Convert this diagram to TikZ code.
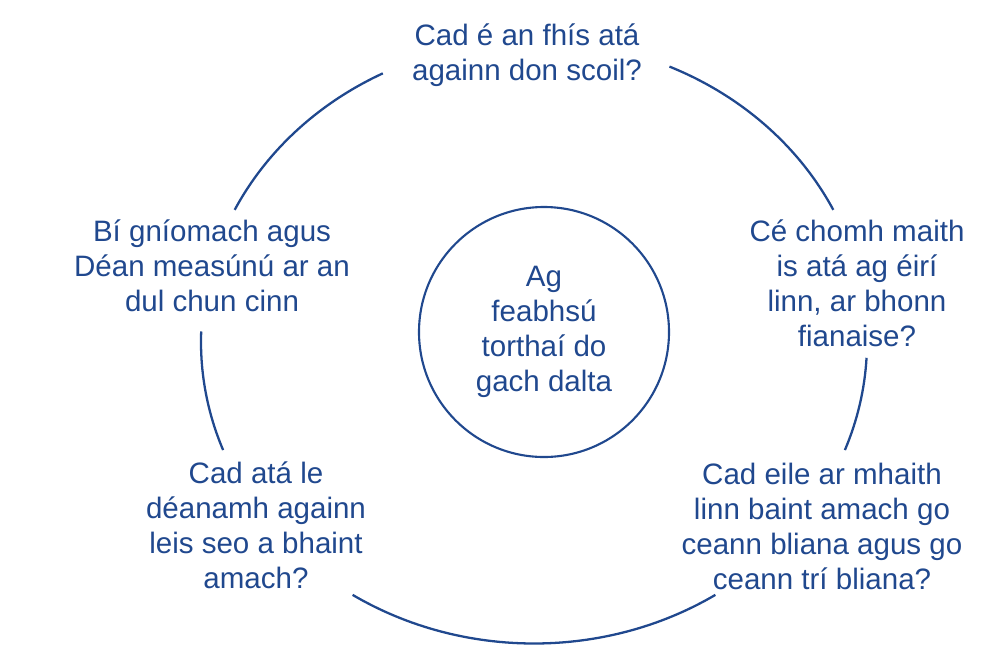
\documentclass[tikz,border=0pt]{standalone}
\usepackage{fontspec}
\setmainfont{Liberation Sans}
\usepackage{tikz}
\usetikzlibrary{calc,positioning}
\definecolor{navy}{RGB}{32,72,142}
\tikzstyle{question}=[text=navy, align=center, inner sep=0pt, font=\fontsize{16.8pt}{19.9pt}\selectfont]
\tikzstyle{centre}=[question, draw=navy, line width=1.2pt, circle, minimum size=5cm]
\tikzstyle{loopline}=[draw=navy, line width=1.3pt]

\begin{document}
\begin{tikzpicture}

\useasboundingbox (0,0) rectangle (20.14,-12.92);

% centre of the ring
\coordinate (O) at (10.68,-6.84);

% questions
\node[question] (vision) at (10.54,-1.1) {Cad é an fhís atá\\againn don scoil?};
\node[question] (progress) at (17.14,-5.66) {Cé chomh maith\\is atá ag éirí\\linn, ar bhonn\\fianaise?};
\node[question] (targets) at (16.44,-10.52) {Cad eile ar mhaith\\linn baint amach go\\ceann bliana agus go\\ceann trí bliana?};
\node[question] (plan) at (5.12,-10.5) {Cad atá le\\déanamh againn\\leis seo a bhaint\\amach?};
\node[question] (action) at (4.24,-5.32) {Bí gníomach agus\\Déan measúnú ar an\\dul chun cinn};

% middle
\node[centre] (pupil) at (10.88,-6.64) {Ag\\feabhsú\\torthaí do\\gach dalta};

% ring
\draw[loopline] ([shift={(66:6.66 and 6.03)}]O) arc[start angle=66, end angle=26, x radius=6.66, y radius=6.03];
\draw[loopline] ([shift={(-3:6.66 and 6.03)}]O) arc[start angle=-3, end angle=-21, x radius=6.66, y radius=6.03];
\draw[loopline] ([shift={(-57:6.66 and 6.03)}]O) arc[start angle=-57, end angle=-123, x radius=6.66, y radius=6.03];
\draw[loopline] ([shift={(201:6.66 and 6.03)}]O) arc[start angle=201, end angle=178, x radius=6.66, y radius=6.03];
\draw[loopline] ([shift={(154:6.66 and 6.03)}]O) arc[start angle=154, end angle=117, x radius=6.66, y radius=6.03];

\end{tikzpicture}
\end{document}
